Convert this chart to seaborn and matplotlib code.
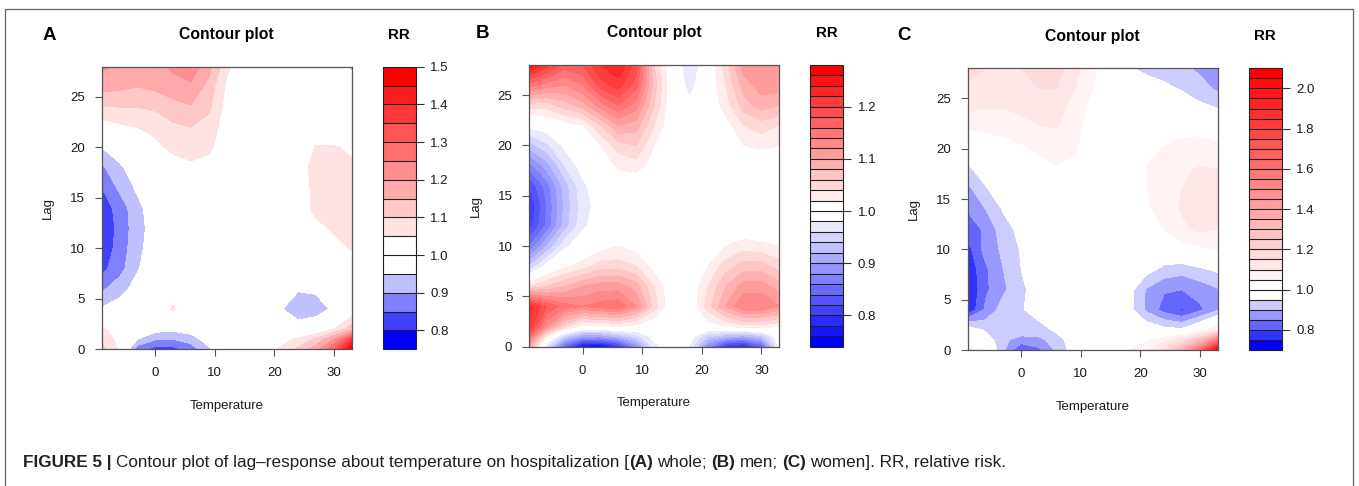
import numpy as np
import matplotlib
matplotlib.use("Agg")
import matplotlib.pyplot as plt
import seaborn as sns
from matplotlib.lines import Line2D

sns.set_theme(style="ticks")
plt.rcParams["font.family"] = ["Liberation Sans", "DejaVu Sans"]

# grid (temperature in columns, lag in rows)
temperature = [-9, -6, -3, 0, 3, 6, 9, 12, 15, 18, 21, 24, 27, 30, 33]
lag = [0, 1, 2, 4, 6, 8, 10, 12, 14, 16, 18, 20, 22, 24, 26, 28]

# (A) whole
rr_whole = [
    [1.12, 1.04, 0.87, 0.83, 0.83, 0.875, 0.94, 1.0, 1.0, 1.01, 1.06, 1.11, 1.18, 1.30, 1.49],
    [1.09, 1.03, 0.95, 0.905, 0.9, 0.92, 0.98, 1.0, 1.0, 1.0, 1.02, 1.06, 1.11, 1.20, 1.36],
    [1.06, 1.02, 0.99, 0.97, 0.965, 0.98, 1.0, 1.0, 1.0, 1.0, 0.985, 0.975, 0.99, 1.05, 1.13],
    [0.955, 0.975, 0.99, 1.0, 1.06, 1.0, 1.0, 1.0, 1.0, 1.0, 0.955, 0.92, 0.925, 0.96, 1.0],
    [0.89, 0.93, 0.97, 0.995, 1.0, 1.0, 1.0, 1.0, 1.0, 1.0, 1.0, 0.955, 0.96, 1.0, 1.0],
    [0.835, 0.88, 0.945, 0.985, 1.0, 1.0, 1.0, 1.0, 1.0, 1.0, 1.0, 1.0, 1.01, 1.02, 1.03],
    [0.815, 0.87, 0.935, 0.98, 1.0, 1.0, 1.0, 1.0, 1.0, 1.0, 1.0, 1.0, 1.02, 1.04, 1.052],
    [0.81, 0.865, 0.93, 0.975, 0.995, 1.0, 1.0, 1.0, 1.0, 1.0, 1.0, 1.01, 1.04, 1.055, 1.06],
    [0.82, 0.87, 0.935, 0.98, 1.0, 1.0, 1.0, 1.0, 1.0, 1.0, 1.0, 1.03, 1.06, 1.065, 1.06],
    [0.85, 0.91, 0.96, 0.99, 1.0, 1.01, 1.01, 1.0, 1.0, 1.0, 1.0, 1.03, 1.06, 1.07, 1.07],
    [0.89, 0.94, 0.98, 1.01, 1.03, 1.04, 1.03, 1.01, 1.0, 1.0, 1.0, 1.03, 1.065, 1.07, 1.06],
    [0.95, 0.98, 1.01, 1.04, 1.06, 1.07, 1.06, 1.02, 1.0, 1.0, 1.0, 1.0, 1.055, 1.055, 1.04],
    [1.02, 1.04, 1.05, 1.06, 1.09, 1.10, 1.08, 1.02, 1.0, 1.0, 1.0, 1.0, 1.0, 1.0, 1.0],
    [1.095, 1.10, 1.10, 1.11, 1.13, 1.145, 1.11, 1.03, 1.0, 1.0, 1.0, 1.0, 1.0, 1.0, 0.99],
    [1.17, 1.16, 1.15, 1.16, 1.18, 1.19, 1.13, 1.04, 1.01, 1.0, 1.0, 1.0, 1.0, 0.99, 0.98],
    [1.21, 1.19, 1.18, 1.18, 1.21, 1.23, 1.17, 1.06, 1.02, 1.01, 1.0, 1.0, 1.0, 0.99, 0.94],
]

# (B) men
rr_men = [
    [1.10, 0.96, 0.84, 0.76, 0.75, 0.80, 0.88, 0.97, 1.0, 0.975, 0.88, 0.80, 0.78, 0.84, 0.99],
    [1.16, 1.02, 0.94, 0.90, 0.90, 0.92, 0.95, 0.99, 1.0, 0.99, 0.94, 0.92, 0.91, 0.93, 1.0],
    [1.22, 1.12, 1.05, 1.01, 1.01, 1.02, 1.01, 1.0, 1.0, 1.0, 1.01, 1.02, 1.03, 1.03, 1.02],
    [1.23, 1.18, 1.15, 1.14, 1.15, 1.155, 1.12, 1.05, 1.0, 1.0, 1.05, 1.10, 1.14, 1.14, 1.12],
    [1.04, 1.06, 1.08, 1.10, 1.11, 1.11, 1.09, 1.04, 1.0, 1.0, 1.04, 1.08, 1.11, 1.11, 1.09],
    [0.94, 0.99, 1.015, 1.03, 1.05, 1.05, 1.04, 1.01, 1.0, 1.0, 1.02, 1.05, 1.07, 1.07, 1.05],
    [0.86, 0.92, 0.975, 0.995, 1.01, 1.02, 1.01, 1.0, 1.0, 1.0, 1.0, 1.02, 1.03, 1.025, 1.02],
    [0.81, 0.865, 0.93, 0.975, 0.995, 1.0, 1.0, 1.0, 1.0, 1.0, 1.0, 1.0, 1.0, 1.0, 1.0],
    [0.80, 0.86, 0.925, 0.97, 0.99, 1.0, 1.0, 1.0, 1.0, 1.0, 1.0, 1.0, 1.0, 1.0, 1.0],
    [0.82, 0.87, 0.93, 0.975, 0.995, 1.0, 1.0, 1.0, 1.0, 1.0, 1.0, 1.0, 1.0, 1.0, 1.0],
    [0.87, 0.91, 0.96, 0.99, 1.0, 1.025, 1.03, 1.01, 1.0, 1.0, 1.0, 1.0, 1.0, 1.0, 1.0],
    [0.93, 0.955, 0.985, 0.995, 1.02, 1.05, 1.06, 1.02, 1.0, 1.0, 1.0, 1.0, 1.02, 1.025, 1.02],
    [0.985, 0.995, 1.01, 1.018, 1.06, 1.10, 1.09, 1.04, 1.0, 1.0, 1.0, 1.01, 1.04, 1.05, 1.04],
    [1.05, 1.05, 1.07, 1.09, 1.13, 1.16, 1.13, 1.06, 1.0, 0.985, 1.0, 1.03, 1.07, 1.09, 1.08],
    [1.15, 1.13, 1.12, 1.14, 1.19, 1.21, 1.17, 1.07, 1.0, 0.972, 1.0, 1.04, 1.09, 1.11, 1.11],
    [1.26, 1.21, 1.17, 1.18, 1.22, 1.24, 1.19, 1.06, 1.0, 0.962, 1.0, 1.05, 1.11, 1.12, 1.12],
]

# (C) women
rr_women = [
    [1.08, 1.02, 0.91, 0.795, 0.84, 0.91, 0.98, 1.0, 1.0, 1.05, 1.09, 1.18, 1.34, 1.62, 2.08],
    [1.03, 0.985, 0.91, 0.88, 0.885, 0.93, 0.98, 1.0, 1.0, 1.02, 1.04, 1.08, 1.14, 1.28, 1.55],
    [0.99, 0.94, 0.93, 0.93, 0.93, 0.96, 1.0, 1.0, 1.0, 1.0, 0.99, 0.97, 0.96, 1.02, 1.10],
    [0.752, 0.86, 0.925, 0.945, 0.975, 0.99, 1.0, 1.0, 1.0, 0.97, 0.89, 0.83, 0.795, 0.84, 0.89],
    [0.745, 0.84, 0.89, 0.94, 0.975, 1.0, 1.0, 1.0, 1.0, 0.975, 0.895, 0.855, 0.85, 0.87, 0.895],
    [0.76, 0.84, 0.90, 0.95, 0.985, 1.0, 1.0, 1.0, 1.0, 1.0, 0.97, 0.935, 0.92, 0.94, 0.96],
    [0.78, 0.87, 0.91, 0.955, 0.99, 1.0, 1.0, 1.0, 1.0, 1.0, 1.0, 1.0, 1.02, 1.04, 1.055],
    [0.82, 0.86, 0.93, 0.965, 0.99, 1.0, 1.0, 1.0, 1.0, 1.0, 1.02, 1.05, 1.09, 1.11, 1.10],
    [0.855, 0.90, 0.955, 0.99, 1.0, 1.0, 1.0, 1.0, 1.0, 1.0, 1.04, 1.075, 1.105, 1.12, 1.11],
    [0.885, 0.945, 0.98, 1.0, 1.0, 1.01, 1.0, 1.0, 1.0, 1.0, 1.05, 1.08, 1.10, 1.12, 1.12],
    [0.94, 0.975, 0.995, 1.01, 1.03, 1.045, 1.04, 1.0, 1.0, 1.0, 1.05, 1.07, 1.09, 1.105, 1.10],
    [0.99, 1.01, 1.02, 1.04, 1.06, 1.07, 1.055, 1.01, 1.0, 1.0, 1.03, 1.055, 1.06, 1.065, 1.06],
    [1.05, 1.06, 1.07, 1.08, 1.095, 1.10, 1.07, 1.02, 1.0, 1.0, 1.0, 1.02, 1.04, 1.04, 1.03],
    [1.11, 1.10, 1.10, 1.11, 1.12, 1.12, 1.08, 1.03, 1.0, 1.0, 1.0, 0.99, 0.98, 0.965, 0.95],
    [1.14, 1.13, 1.12, 1.13, 1.15, 1.15, 1.10, 1.05, 1.01, 1.0, 0.98, 0.96, 0.945, 0.92, 0.89],
    [1.17, 1.15, 1.14, 1.15, 1.17, 1.17, 1.12, 1.06, 1.02, 0.955, 0.935, 0.93, 0.91, 0.89, 0.86],
]

levels_whole = np.round(np.arange(0.75, 1.5001, 0.05), 2)
levels_men = np.round(np.arange(0.74, 1.2801, 0.02), 2)
levels_women = np.round(np.arange(0.70, 2.1001, 0.05), 2)

ticks_whole = [0.8, 0.9, 1.0, 1.1, 1.2, 1.3, 1.4, 1.5]
ticks_men = [0.8, 0.9, 1.0, 1.1, 1.2]
ticks_women = [0.8, 1.0, 1.2, 1.4, 1.6, 1.8, 2.0]

caption_parts = [
    ("FIGURE 5 |", "bold", True),
    ("Contour plot of lag\u2013response about temperature on hospitalization [", "normal", False),
    ("(A)", "bold", True),
    ("whole;", "normal", True),
    ("(B)", "bold", True),
    ("men;", "normal", True),
    ("(C)", "bold", True),
    ("women]. RR, relative risk.", "normal", False),
]

W, H = 1359, 486
fig = plt.figure(figsize=(W / 100, H / 100), dpi=100)
fig.patch.set_facecolor("white")


def fx(px):
    return px / W


def fy(py):
    return 1 - py / H


def px_axes(box):
    x0, y0, x1, y1 = box
    return fig.add_axes([fx(x0), fy(y1), (x1 - x0) / W, (y1 - y0) / H])


def rr_colors(levels):
    # blue -> white below RR 1, white -> red above (one colour per band)
    n_low = int(np.sum(levels < 1 - 1e-9))
    n_high = int(np.sum(levels > 1 + 1e-9))
    low = sns.blend_palette(["blue", "white"], n_low)
    high = sns.blend_palette(["white", "red"], n_high)
    return list(low) + list(high)


panels = [
    dict(rr=rr_whole, levels=levels_whole, ticks=ticks_whole, letter="A",
         plot=(101.7, 66.7, 351.7, 349.3), cbar=(382.7, 66.7, 415.7, 349.3),
         head_y=35, letter_x=43, lag_x=48, temp_y=406),
    dict(rr=rr_men, levels=levels_men, ticks=ticks_men, letter="B",
         plot=(529, 65, 779.3, 346.7), cbar=(810, 65, 843.3, 346.7),
         head_y=33, letter_x=476, lag_x=476, temp_y=403),
    dict(rr=rr_women, levels=levels_women, ticks=ticks_women, letter="C",
         plot=(967.7, 68.3, 1217.7, 350), cbar=(1249, 68.3, 1281.7, 350),
         head_y=36, letter_x=897, lag_x=914, temp_y=407),
]

frame_col = "#555555"
text_col = "#1a1a1a"

for p in panels:
    ax = px_axes(p["plot"])
    cs = ax.contourf(temperature, lag, np.array(p["rr"]),
                     levels=p["levels"], colors=rr_colors(p["levels"]))
    ax.set_xlim(-9, 33)
    ax.set_ylim(0, 28)
    ax.set_xticks([0, 10, 20, 30])
    ax.set_yticks([0, 5, 10, 15, 20, 25])
    ax.tick_params(length=5, width=0.8, color=frame_col, labelsize=9.5,
                   labelcolor=text_col)
    ax.tick_params(axis="x", pad=8)
    ax.tick_params(axis="y", pad=7)
    for s in ax.spines.values():
        s.set_visible(True)
        s.set_color(frame_col)
        s.set_linewidth(0.9)

    x0, y0, x1, y1 = p["plot"]
    fig.text(fx((x0 + x1) / 2), fy(p["temp_y"]), "Temperature", fontsize=9.5,
             ha="center", va="center", color=text_col)
    fig.text(fx(p["lag_x"]), fy((y0 + y1) / 2), "Lag", fontsize=9.5,
             rotation=90, ha="center", va="center", color=text_col)
    fig.text(fx((x0 + x1) / 2), fy(p["head_y"]), "Contour plot", fontsize=11.3,
             fontweight="bold", ha="center", va="center", color="black")
    fig.text(fx(p["letter_x"]), fy(p["head_y"]), p["letter"], fontsize=13.5,
             fontweight="bold", ha="left", va="center", color="black")

    cax = px_axes(p["cbar"])
    cb = fig.colorbar(cs, cax=cax, ticks=p["ticks"], drawedges=True)
    cb.outline.set_edgecolor("#222222")
    cb.outline.set_linewidth(0.8)
    cb.dividers.set_color("#222222")
    cb.dividers.set_linewidth(0.8)
    cax.set_yticklabels([f"{t:.1f}" for t in p["ticks"]])
    cax.tick_params(length=5.5, width=0.8, color="#333333", labelsize=9.5,
                    labelcolor=text_col, pad=5)
    c0, _, c1, _ = p["cbar"]
    fig.text(fx((c0 + c1) / 2), fy(p["head_y"]), "RR", fontsize=10.8,
             fontweight="bold", ha="center", va="center", color="black")

# outer frame of the figure
fig.add_artist(Line2D([fx(5), fx(1353)], [fy(9.5), fy(9.5)], color="#666666", lw=0.9))
fig.add_artist(Line2D([fx(5), fx(5)], [fy(9.5), fy(486)], color="#666666", lw=0.9))
fig.add_artist(Line2D([fx(1353), fx(1353)], [fy(9.5), fy(486)], color="#666666", lw=0.9))

# caption, written piece by piece so the bold parts sit inline
renderer = fig.canvas.get_renderer()
cap_size = 12.3
space_px = cap_size * 100 / 72 * 0.26
xpos = 23
for text, weight, space_after in caption_parts:
    t = fig.text(fx(xpos), fy(462), text, fontsize=cap_size, fontweight=weight,
                 ha="left", va="center", color="#231f20")
    bb = t.get_window_extent(renderer)
    xpos = bb.x1
    if space_after:
        xpos += space_px

fig.savefig("out.png", dpi=100)
